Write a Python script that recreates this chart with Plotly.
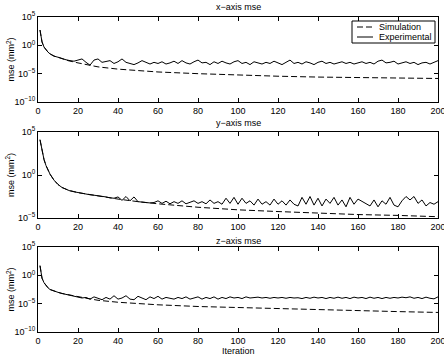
import plotly.graph_objects as go

# ---------------- data (log10 of mse, mm^2) ----------------
sim_iter = [1, 2, 3, 4, 5, 6, 8, 10, 12, 15, 20, 25, 30, 40, 50, 60, 80, 100, 120, 140, 160, 180, 200]
sim_x_log = [2.7, 0.6, -0.3, -0.8, -1.2, -1.5, -1.9, -2.1, -2.35, -2.7, -3.1, -3.5, -3.8, -4.2, -4.5, -4.7,
             -5.0, -5.25, -5.45, -5.6, -5.7, -5.8, -5.85]
sim_y_log = [4.1, 2.7, 1.8, 1.1, 0.6, 0.1, -0.6, -1.1, -1.45, -1.75, -2.05, -2.25, -2.4, -2.8, -3.1, -3.35,
             -3.75, -4.05, -4.25, -4.45, -4.6, -4.7, -4.85]
sim_z_log = [1.7, -0.5, -1.3, -1.8, -2.2, -2.5, -2.8, -3.0, -3.2, -3.45, -3.75, -4.1, -4.4, -4.75, -5.0, -5.2,
             -5.5, -5.7, -5.9, -6.05, -6.25, -6.4, -6.55]

exp_iter = [1, 2, 3, 4, 5, 6, 8, 10, 12, 14] + list(range(16, 201, 2))
exp_x_log = [2.7, 0.6, -0.3, -0.8, -1.2, -1.5, -1.9, -2.1, -2.35, -2.55,
             -2.7, -2.8, -2.6, -2.4, -3.0, -3.5, -2.6, -2.4, -3.0, -2.9, -2.7, -3.2, -2.9, -2.4, -3.0, -3.2,
             -3.4, -3.1, -2.7, -3.0, -3.3, -3.0, -3.2, -2.9, -3.3, -3.1, -2.8, -3.2, -2.7, -3.1, -3.3, -2.9,
             -2.6, -3.1, -3.0, -3.4, -2.9, -3.2, -2.8, -3.1, -3.3, -2.9, -2.7, -3.2, -3.0, -3.4, -2.9, -3.1,
             -3.3, -3.0, -3.2, -2.8, -3.1, -3.4, -3.0, -2.6, -3.2, -3.0, -3.3, -2.9, -3.1, -3.4, -3.0, -2.8,
             -3.2, -3.0, -3.3, -3.1, -2.9, -3.2, -3.0, -3.3, -3.1, -2.9, -3.2, -3.0, -3.3, -2.8, -2.6, -3.1,
             -3.0, -2.8, -3.3, -3.1, -2.9, -3.2, -3.0, -3.4, -3.1, -3.0, -3.3, -3.0, -2.7]
exp_y_log = [4.1, 2.7, 1.8, 1.1, 0.6, 0.1, -0.6, -1.1, -1.45, -1.65,
             -1.85, -1.95, -2.05, -2.15, -2.2, -2.3, -2.35, -2.4, -2.5, -2.55, -2.65, -2.7, -2.55, -2.95,
             -2.5, -3.0, -2.55, -3.1, -3.15, -3.2, -3.25, -3.2, -3.0, -3.3, -3.05, -3.35, -3.1, -3.3, -3.0,
             -3.35, -3.2, -3.0, -3.3, -3.1, -3.35, -2.9, -3.3, -3.1, -3.4, -2.7, -3.3, -2.6, -3.4, -2.7,
             -3.3, -3.0, -3.5, -2.8, -3.4, -3.1, -3.5, -2.8, -3.4, -3.0, -3.5, -2.9, -3.4, -3.6, -2.6, -3.4,
             -2.5, -3.5, -2.7, -3.6, -2.8, -3.3, -2.6, -3.5, -2.9, -3.7, -2.6, -3.4, -2.8, -3.1, -3.3, -3.6,
             -2.9, -3.7, -3.0, -3.4, -2.6, -3.5, -3.7, -3.0, -2.5, -2.9, -2.5, -3.3, -2.9, -3.6, -3.2, -3.4,
             -3.1]
exp_z_log = [1.7, -0.5, -1.3, -1.8, -2.2, -2.5, -2.8, -3.0, -3.2, -3.35,
             -3.55, -3.7, -3.8, -4.0, -3.9, -4.2, -3.8, -4.1, -4.3, -3.9, -4.2, -3.6, -4.2, -4.0, -3.6, -4.2,
             -4.3, -3.7, -4.0, -4.3, -3.8, -4.1, -3.7, -4.2, -3.9, -4.0, -4.2, -3.9, -4.1, -3.8, -4.2, -4.0,
             -3.8, -4.2, -3.9, -4.1, -3.8, -4.2, -3.9, -4.1, -3.8, -4.0, -3.9, -4.1, -3.8, -4.0, -3.9, -3.85,
             -4.0, -3.9, -4.05, -3.9, -4.0, -3.9, -4.05, -3.9, -4.0, -3.95, -4.1, -3.9, -4.05, -3.85, -4.0,
             -3.9, -4.1, -3.9, -4.05, -3.85, -4.05, -3.9, -4.1, -3.85, -4.0, -3.9, -4.1, -3.85, -4.05, -3.9,
             -4.1, -3.9, -4.05, -3.9, -4.0, -3.85, -3.95, -3.8, -4.05, -3.9, -4.1, -3.85, -4.05, -4.15, -3.8]

panel_titles = ["x\u2212axis mse", "y\u2212axis mse", "z\u2212axis mse"]
series_names = ["Simulation", "Experimental"]
x_ticks = [0, 20, 40, 60, 80, 100, 120, 140, 160, 180, 200]
y_tick_exps = [[5, 0, -5, -10], [5, 0, -5], [5, 0, -5, -10]]
y_ranges = [[-10, 5], [-5, 5], [-10, 5]]

# ---------------- layout geometry ----------------
W, H = 444, 358
L, R = 38, 6
PW = W - L - R
panel_px = [(17, 102), (132, 218), (247, 332)]  # top, bottom in pixels
title_px = [7, 123, 241]

FONT = "Liberation Sans, Arial, sans-serif"
FS = 9

def px_x(p):
    return (p - L) / PW

def px_y(p):
    return 1 - p / H

fig = go.Figure()
sims = [sim_x_log, sim_y_log, sim_z_log]
exps = [exp_x_log, exp_y_log, exp_z_log]
DASH = "6px,3px"

for i in range(3):
    ax = "" if i == 0 else str(i + 1)
    fig.add_trace(go.Scatter(
        x=sim_iter, y=[10 ** v for v in sims[i]], mode="lines",
        line=dict(color="black", width=1, dash=DASH),
        name=series_names[0], showlegend=False,
        xaxis="x" + ax, yaxis="y" + ax))
    fig.add_trace(go.Scatter(
        x=exp_iter, y=[10 ** v for v in exps[i]], mode="lines",
        line=dict(color="black", width=1),
        name=series_names[1], showlegend=False,
        xaxis="x" + ax, yaxis="y" + ax))

def minus(n):
    return str(n).replace("-", "\u2212")

layout = {}
annotations = []
for i in range(3):
    ax = "" if i == 0 else str(i + 1)
    top, bot = panel_px[i]
    dom = [1 - bot / H, 1 - top / H]
    layout["xaxis" + ax] = dict(
        domain=[0, 1], range=[0, 200], anchor="y" + ax,
        tickvals=x_ticks, ticks="inside", ticklen=4, tickcolor="black",
        showline=True, linecolor="black", linewidth=1, mirror="ticks",
        showgrid=False, zeroline=False, automargin=False,
        ticklabeloverflow="allow",
        tickfont=dict(family=FONT, size=FS, color="black"))
    layout["yaxis" + ax] = dict(
        domain=dom, type="log", range=y_ranges[i], anchor="x" + ax,
        tickvals=[10.0 ** e for e in y_tick_exps[i]],
        ticktext=["10<sup>%s</sup>" % minus(e) for e in y_tick_exps[i]],
        ticks="inside", ticklen=4, tickcolor="black",
        showline=True, linecolor="black", linewidth=1, mirror="ticks",
        showgrid=False, zeroline=False, automargin=False,
        ticklabeloverflow="allow",
        tickfont=dict(family=FONT, size=FS, color="black"))
    annotations.append(dict(
        text=panel_titles[i], xref="paper", yref="paper", x=0.5, y=px_y(title_px[i]),
        xanchor="center", yanchor="middle", showarrow=False,
        font=dict(family=FONT, size=FS, color="black")))
    annotations.append(dict(
        text="mse (mm<sup>2</sup>)", xref="paper", yref="paper",
        x=px_x(10), y=px_y((top + bot) / 2),
        xanchor="center", yanchor="middle", textangle=-90, showarrow=False,
        font=dict(family=FONT, size=FS, color="black")))

annotations.append(dict(
    text="Iteration", xref="paper", yref="paper", x=0.5, y=px_y(351),
    xanchor="center", yanchor="middle", showarrow=False,
    font=dict(family=FONT, size=FS, color="black")))

# compact legend box (top-right of first panel)
shapes = [dict(type="rect", xref="paper", yref="paper",
               x0=px_x(352), x1=px_x(435), y0=px_y(43), y1=px_y(21),
               line=dict(color="black", width=1), fillcolor="white", layer="above")]
legend_rows = [(27, DASH), (37, "solid")]
for (yy, dash), nm in zip(legend_rows, series_names):
    shapes.append(dict(type="line", xref="paper", yref="paper",
                       x0=px_x(357), x1=px_x(373), y0=px_y(yy), y1=px_y(yy),
                       line=dict(color="black", width=1, dash=dash), layer="above"))
    annotations.append(dict(text=nm, xref="paper", yref="paper", x=px_x(377), y=px_y(yy),
                            xanchor="left", yanchor="middle", showarrow=False,
                            font=dict(family=FONT, size=FS, color="black")))

fig.update_layout(
    width=W, height=H,
    margin=dict(l=L, r=R, t=0, b=0, pad=0),
    paper_bgcolor="white", plot_bgcolor="white",
    annotations=annotations, shapes=shapes, showlegend=False,
    **layout)

fig.write_html("out.html")
